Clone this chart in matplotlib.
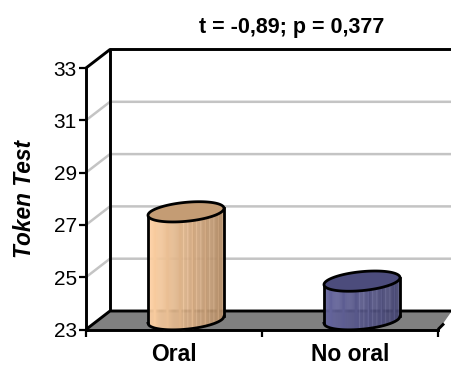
import numpy as np
import matplotlib
matplotlib.use("Agg")
import matplotlib.pyplot as plt
from matplotlib.colors import to_rgb

categories = ["Oral", "No oral"]
values = [27.5, 24.85]
left_colors = ["#ffd2a4", "#66669e"]
right_colors = ["#b08a66", "#45456f"]
top_colors = ["#c49c74", "#4c4c7c"]
y_ticks = [23, 25, 27, 29, 31, 33]
title = "t = -0,89; p = 0,377"
y_label = "Token Test"

W, H = 451, 365
plt.rcParams["font.family"] = ["Liberation Sans", "DejaVu Sans"]
fig = plt.figure(figsize=(W / 100, H / 100), dpi=100)
L, R, T, B = 86, 438, 68, 329.5
ax = fig.add_axes([L / W, 1 - B / H, (R - L) / W, (B - T) / H])
ax.set_xlim(0, 2)
ax.set_ylim(23, 33)
ax.patch.set_alpha(0)
ux = 2 / (R - L)
uy = 10 / (B - T)
dx, dy = 24 * ux, 18.5 * uy
xend = 2 + 13 * ux

# floor
ax.fill([0, dx, xend, 2], [23, 23 + dy, 23 + dy, 23], color="#808080", zorder=1, clip_on=False)
# gridlines
for t in y_ticks[1:-1]:
    ax.plot([0, dx, xend], [t, t + dy, t + dy], color="#c4c4c4", lw=1.8, zorder=1.5, clip_on=False)
# walls / outlines
blk = dict(color="black", lw=2.1, zorder=2, clip_on=False, solid_capstyle="butt")
ax.plot([0, dx, xend], [33, 33 + dy, 33 + dy], **blk)
ax.plot([dx, dx], [23 + dy, 33 + dy], **blk)
ax.plot([0, dx, xend], [23, 23 + dy, 23 + dy], **blk)
ax.plot([2, 2 + 6 * ux], [23, 23 + 6 * uy], **blk)

# cylinders
a = 38 * ux
b = 9.5 * uy
s = 3.5 * uy
for i, (v, lc, rc, tc) in enumerate(zip(values, left_colors, right_colors, top_colors)):
    cx = i + 0.5 + dx / 2
    base = 23 + dy / 2 + 0.02
    top = v
    th = np.linspace(0, 2 * np.pi, 200)
    ex, ey = np.cos(th) * a, b * np.sin(th) + s * np.cos(th)
    n = 70
    us = np.linspace(-1, 1, n + 1)
    c0, c1 = np.array(to_rgb(lc)), np.array(to_rgb(rc))
    low = lambda u: -b * np.sqrt(np.clip(1 - u ** 2, 0, 1)) + s * u
    for j in range(n):
        u = np.linspace(us[j], us[j + 1], 3)
        f = ((us[j] + us[j + 1]) / 2 + 1) / 2
        col = c0 + (c1 - c0) * f
        if 0.45 < f and j % 4 == 0:
            col = np.minimum(col + 0.07, 1)
        ax.fill_between(cx + u * a, base + low(u), top + low(u), color=col, lw=0.3, zorder=3, clip_on=False)
    u = np.linspace(-1, 1, 100)
    ax.plot(cx + u * a, base + low(u), color="black", lw=2, zorder=4, clip_on=False)
    ax.plot([cx - a, cx - a], [base - s, top - s], color="black", lw=2, zorder=4, clip_on=False)
    ax.plot([cx + a, cx + a], [base + s, top + s], color="black", lw=2, zorder=4, clip_on=False)
    ax.fill(cx + ex, top + ey, facecolor=tc, edgecolor="black", lw=2, zorder=5, clip_on=False)

# axes
for sp in ["top", "right"]:
    ax.spines[sp].set_visible(False)
for sp in ["left", "bottom"]:
    ax.spines[sp].set_linewidth(2.1)
    ax.spines[sp].set_zorder(2.5)
ax.set_yticks(y_ticks)
ax.set_yticklabels([str(t) for t in y_ticks], fontsize=15)
ax.set_xticks([0, 1, 2])
ax.set_xticks([0.5, 1.5], minor=True)
ax.set_xticklabels([])
ax.set_xticklabels(categories, minor=True, fontsize=16.5, fontweight="bold")
ax.tick_params(axis="y", length=5, width=1.6, pad=1.5)
ax.tick_params(axis="x", which="major", length=5, width=1.6)
ax.tick_params(axis="x", which="minor", length=0, pad=9.5)

fig.text(292 / W, 1 - 27 / H, title, ha="center", va="center", fontsize=15.5, fontweight="bold")
fig.text(25 / W, 1 - 199 / H, y_label, rotation=90, ha="center", va="center",
         fontsize=16.3, fontweight="bold", fontstyle="italic")
fig.savefig("out.png", dpi=100)
